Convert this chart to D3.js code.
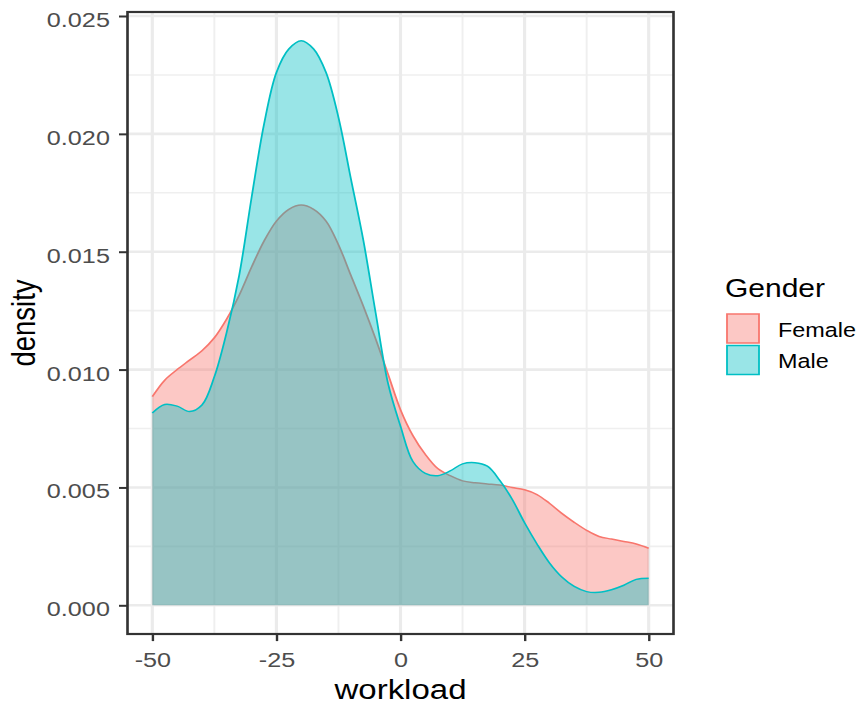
<!DOCTYPE html>
<html>
<head>
<meta charset="utf-8">
<script src="https://cdn.jsdelivr.net/npm/d3@7/dist/d3.min.js"></script>
<style>
  html, body { margin: 0; padding: 0; background: #fff; }
  svg { display: block; }
  text { font-family: "Liberation Sans", Arial, Helvetica, sans-serif; }
</style>
</head>
<body>
<svg id="chart" width="860" height="703"></svg>
<script>
// Workload values at which the densities are evaluated
const workload = [
  -50, -47.5, -45, -42.5, -40, -37.5, -35, -32.5, -30, -27.5,
  -25, -22.5, -20, -17.5, -15, -12.5, -10, -7.5, -5, -2.5,
  0, 2.5, 5, 7.5, 10, 12.5, 15, 17.5, 20, 22.5,
  25, 27.5, 30, 32.5, 35, 37.5, 40, 42.5, 45, 47.5, 50
];

// Kernel density estimates by gender
const femaleDensity = [
  0.00885, 0.00955, 0.0100, 0.0104, 0.0108, 0.01135, 0.01215, 0.01315, 0.01435, 0.01545,
  0.0163, 0.0168, 0.01698, 0.0168, 0.0163, 0.0153, 0.0140, 0.0127, 0.0113, 0.0098,
  0.0083, 0.0072, 0.0064, 0.0058, 0.0055, 0.00528, 0.0052, 0.00515, 0.0051, 0.0050,
  0.0049, 0.0047, 0.00433, 0.0039, 0.00352, 0.00318, 0.00292, 0.00281, 0.00271, 0.0026, 0.00242
];
const maleDensity = [
  0.00816, 0.00852, 0.00845, 0.00822, 0.0085, 0.0097, 0.0116, 0.0140, 0.0173, 0.0204,
  0.0226, 0.0236, 0.02395, 0.0236, 0.0226, 0.0207, 0.0181, 0.0155, 0.0124, 0.0094,
  0.0076, 0.0061, 0.0056, 0.0055, 0.0057, 0.0060, 0.00605, 0.0059, 0.0053, 0.0045,
  0.0035, 0.0026, 0.0018, 0.0012, 0.0008, 0.00058, 0.00055, 0.00066, 0.00085, 0.0011, 0.00115
];

const genders = ["Female", "Male"];
const genderColors = ["#F8766D", "#00BFC4"];

const xTicks = [-50, -25, 0, 25, 50];
const xMinor = [-37.5, -12.5, 12.5, 37.5];
const yTicks = [0, 0.005, 0.010, 0.015, 0.020, 0.025];
const yMinor = [0.0025, 0.0075, 0.0125, 0.0175, 0.0225];

// Layout (the drawing is laid out in a horizontally condensed space, then widened)
const S = 1.2;
const panel = { left: 127.5 / S, right: 673.5 / S, top: 12, bottom: 634 };

const svg = d3.select("#chart");
const root = svg.append("g").attr("transform", `scale(${S},1)`);

const x = d3.scaleLinear().domain([-55, 55]).range([panel.left, panel.right]);
const y = d3.scaleLinear().domain([0, 0.025]).range([605.3, 16]);

// Panel background and grid
root.append("rect")
  .attr("x", panel.left).attr("y", panel.top)
  .attr("width", panel.right - panel.left).attr("height", panel.bottom - panel.top)
  .attr("fill", "#fff");

const grid = root.append("g");
grid.selectAll(".ymin").data(yMinor).join("line")
  .attr("x1", panel.left).attr("x2", panel.right)
  .attr("y1", d => y(d)).attr("y2", d => y(d))
  .attr("stroke", "#EFEFEF").attr("stroke-width", 1.6);
grid.selectAll(".xmin").data(xMinor).join("line")
  .attr("y1", panel.top).attr("y2", panel.bottom)
  .attr("x1", d => x(d)).attr("x2", d => x(d))
  .attr("stroke", "#EFEFEF").attr("stroke-width", 1.6);
grid.selectAll(".ymaj").data(yTicks).join("line")
  .attr("x1", panel.left).attr("x2", panel.right)
  .attr("y1", d => y(d)).attr("y2", d => y(d))
  .attr("stroke", "#EBEBEB").attr("stroke-width", 2.6);
grid.selectAll(".xmaj").data(xTicks).join("line")
  .attr("y1", panel.top).attr("y2", panel.bottom)
  .attr("x1", d => x(d)).attr("x2", d => x(d))
  .attr("stroke", "#EBEBEB").attr("stroke-width", 2.6);

// Density areas with upper outlines
const series = genders.map((g, i) => ({
  name: g,
  color: genderColors[i],
  values: workload.map((w, j) => ({ w, d: (i === 0 ? femaleDensity : maleDensity)[j] }))
}));

const curve = d3.curveCatmullRom.alpha(0.5);
const area = d3.area().x(p => x(p.w)).y0(y(0)).y1(p => y(p.d)).curve(curve);
const line = d3.line().x(p => x(p.w)).y(p => y(p.d)).curve(curve);

series.forEach(s => {
  root.append("path").datum(s.values)
    .attr("d", area).attr("fill", s.color).attr("fill-opacity", 0.4);
  root.append("path").datum(s.values)
    .attr("d", line).attr("fill", "none")
    .attr("stroke", s.color).attr("stroke-width", 1.5);
});

// Panel border
root.append("rect")
  .attr("x", panel.left).attr("y", panel.top)
  .attr("width", panel.right - panel.left).attr("height", panel.bottom - panel.top)
  .attr("fill", "none").attr("stroke", "#333333").attr("stroke-width", 2.2);

// Axes
const xAxis = root.append("g")
  .attr("transform", `translate(0,${panel.bottom})`)
  .call(d3.axisBottom(x).tickValues(xTicks).tickSize(7.1).tickPadding(10.5)
    .tickFormat(d3.format("d")));
const yAxis = root.append("g")
  .attr("transform", `translate(${panel.left},0)`)
  .call(d3.axisLeft(y).tickValues(yTicks).tickSize(8.5 / S).tickPadding(7.6)
    .tickFormat(d3.format(".3f")));

[xAxis, yAxis].forEach(a => {
  a.select(".domain").remove();
  a.selectAll(".tick line").attr("stroke", "#333333").attr("stroke-width", 2);
  a.selectAll(".tick text")
    .attr("fill", "#4D4D4D")
    .style("font-size", "21px")
    .style("font-family", '"Liberation Sans", Arial, sans-serif');
});
xAxis.selectAll(".tick text").text(d => d < 0 ? "-" + Math.abs(d) : d);
yAxis.selectAll(".tick text").attr("dy", "0.5em");

// Axis titles
root.append("text")
  .attr("x", (panel.left + panel.right) / 2).attr("y", 699)
  .attr("text-anchor", "middle")
  .style("font-size", "27.5px").attr("fill", "#000")
  .text("workload");
root.append("text")
  .attr("transform", `translate(${35 / S},${(panel.top + panel.bottom) / 2}) rotate(-90)`)
  .attr("text-anchor", "middle")
  .style("font-size", "27.5px").attr("fill", "#000")
  .text("density");

// Legend
const legend = root.append("g");
legend.append("text")
  .attr("x", 725 / S).attr("y", 297)
  .style("font-size", "25px").attr("fill", "#000")
  .text("Gender");
const keyTop = [314, 345.5];
const labelBase = [337.5, 368.5];
genders.forEach((g, i) => {
  legend.append("rect")
    .attr("x", 727 / S).attr("y", keyTop[i])
    .attr("width", 32 / S).attr("height", 29)
    .attr("fill", genderColors[i]).attr("fill-opacity", 0.4)
    .attr("stroke", genderColors[i]).attr("stroke-width", 1.5);
  legend.append("text")
    .attr("x", 778 / S).attr("y", labelBase[i])
    .style("font-size", "19.5px").attr("fill", "#000")
    .text(g);
});
</script>
</body>
</html>
